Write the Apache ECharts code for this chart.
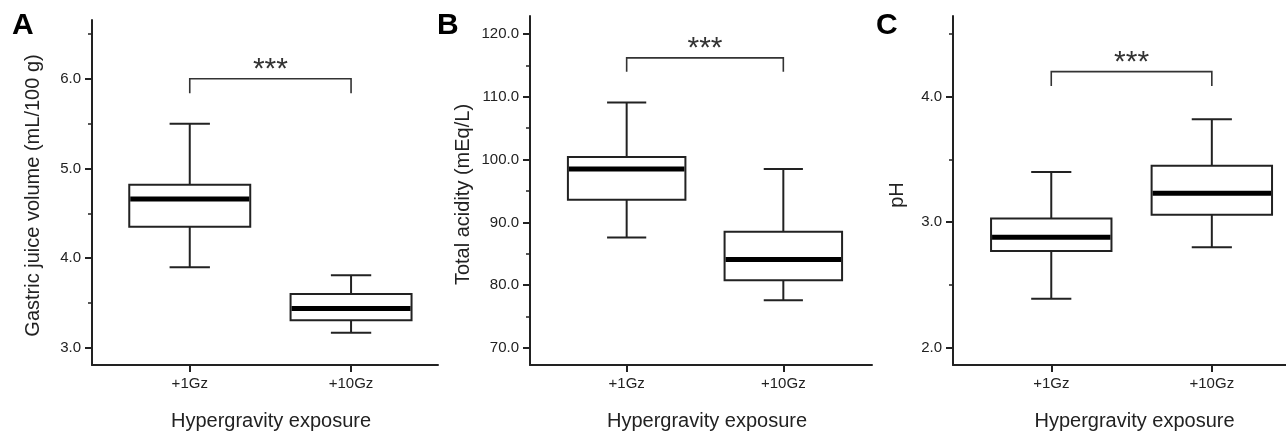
<!DOCTYPE html>
<html>
<head>
<meta charset="utf-8">
<script src="https://cdn.jsdelivr.net/npm/echarts@6/dist/echarts.min.js"></script>
<style>
  html, body { margin: 0; padding: 0; background: #fff; }
  #main { width: 1286px; height: 432px; }
</style>
</head>
<body>
<div id="main"></div>
<script>
// data: [low whisker, Q1, median, Q3, high whisker]
var categories = ['+1Gz', '+10Gz'];
var volume = [[3.90, 4.35, 4.66, 4.82, 5.50], [3.17, 3.31, 3.44, 3.60, 3.81]];
var acidity = [[87.6, 93.6, 98.5, 100.4, 109.1], [77.6, 80.8, 84.1, 88.5, 98.5]];
var ph = [[2.39, 2.77, 2.88, 3.03, 3.40], [2.80, 3.06, 3.23, 3.45, 3.82]];

// significance brackets: [top, leg end]
var bracketVolume = [6.0, 5.84];
var bracketAcidity = [116.2, 114.0];
var bracketPh = [4.20, 4.085];

// tick values
var volumeTicks = [3, 4, 5, 6];
var volumeMinor = [3.5, 4.5, 5.5, 6.5];
var acidityTicks = [70, 80, 90, 100, 110, 120];
var acidityMinor = [75, 85, 95, 105, 115];
var phTicks = [2, 3, 4];
var phMinor = [2.5, 3.5, 4.5];

var font = 'Liberation Sans, Arial, sans-serif';
var ink = '#222';

var myChart = echarts.init(document.getElementById('main'));

function boxItem(params, api) {
    var x = api.value(0);
    var low = api.coord([x, api.value(1)]);
    var q1 = api.coord([x, api.value(2)]);
    var med = api.coord([x, api.value(3)]);
    var q3 = api.coord([x, api.value(4)]);
    var high = api.coord([x, api.value(5)]);
    var hw = api.size([0.75, 0])[0] / 2;   // box half width
    var cw = api.size([0.25, 0])[0] / 2;   // cap half width
    var st = { stroke: ink, lineWidth: 2, fill: null };
    return {
        type: 'group',
        children: [
            { type: 'line', shape: { x1: high[0], y1: high[1], x2: q3[0], y2: q3[1] }, style: st },
            { type: 'line', shape: { x1: q1[0], y1: q1[1], x2: low[0], y2: low[1] }, style: st },
            { type: 'line', shape: { x1: high[0] - cw, y1: high[1], x2: high[0] + cw, y2: high[1] }, style: st },
            { type: 'line', shape: { x1: low[0] - cw, y1: low[1], x2: low[0] + cw, y2: low[1] }, style: st },
            { type: 'rect', shape: { x: q3[0] - hw, y: q3[1], width: hw * 2, height: q1[1] - q3[1] },
              style: { stroke: ink, lineWidth: 2, fill: '#fff' } },
            { type: 'line', shape: { x1: med[0] - hw + 1, y1: med[1], x2: med[0] + hw - 1, y2: med[1] },
              style: { stroke: '#000', lineWidth: 5 } }
        ]
    };
}

function bracketItem(params, api) {
    var top = api.value(0), leg = api.value(1);
    var a = api.coord([1, leg]), b = api.coord([1, top]);
    var c = api.coord([2, top]), d = api.coord([2, leg]);
    return {
        type: 'group',
        children: [
            { type: 'polyline', shape: { points: [a, b, c, d] },
              style: { stroke: '#333', lineWidth: 1.6, fill: null } },
            { type: 'text', x: (b[0] + c[0]) / 2, y: b[1] - 9,
              style: { text: '***', font: '30px ' + font, fill: '#333',
                       textAlign: 'center', textVerticalAlign: 'middle' } }
        ]
    };
}

function toRows(arr) {
    return arr.map(function (d, i) { return [i + 1].concat(d); });
}

function xAxisFor(idx, min, max, pad) {
    return {
        type: 'value', gridIndex: idx, min: min, max: max,
        name: 'Hypergravity exposure', nameLocation: 'middle', nameGap: 46,
        nameTextStyle: { fontFamily: font, fontSize: 20, color: ink, padding: [0, 0, 0, pad] },
        axisLine: { lineStyle: { color: ink, width: 2 } },
        axisTick: { length: 7, lineStyle: { color: ink, width: 2 }, customValues: [1, 2] },
        axisLabel: { fontFamily: font, fontSize: 15, color: ink, margin: 11, customValues: [1, 2],
                     formatter: function (v) { return categories[Math.round(v) - 1]; } },
        splitLine: { show: false }
    };
}

function yAxisFor(idx, min, max, ticks, name, gap, shift) {
    return {
        type: 'value', gridIndex: idx, min: min, max: max,
        name: name, nameLocation: 'middle', nameGap: gap,
        nameTextStyle: { fontFamily: font, fontSize: 20, color: ink, padding: [0, shift, 0, 0] },
        axisLine: { show: true, lineStyle: { color: ink, width: 2 } },
        axisTick: { show: true, length: 7, lineStyle: { color: ink, width: 2 }, customValues: ticks },
        axisLabel: { fontFamily: font, fontSize: 15, color: ink, margin: 11, customValues: ticks,
                     formatter: function (v) { return v.toFixed(1); } },
        splitLine: { show: false }
    };
}

function minorAxisFor(idx, min, max, ticks) {
    return {
        type: 'value', gridIndex: idx, min: min, max: max, position: 'left', offset: 0,
        axisLine: { show: false },
        axisTick: { show: true, length: 4, lineStyle: { color: ink, width: 1.5 }, customValues: ticks },
        axisLabel: { show: false },
        splitLine: { show: false }
    };
}

option = {
    animation: false,
    backgroundColor: '#fff',
    grid: [
        { left: 92, top: 20, width: 346, height: 345, outerBoundsMode: 'none' },
        { left: 530, top: 16, width: 342, height: 349, outerBoundsMode: 'none' },
        { left: 953, top: 16, width: 333, height: 349, outerBoundsMode: 'none' }
    ],
    xAxis: [
        xAxisFor(0, 0.394, 2.539, 12),
        xAxisFor(1, 0.383, 2.566, 12),
        xAxisFor(2, 0.388, 2.462, 30)
    ],
    yAxis: [
        yAxisFor(0, 2.81, 6.655, volumeTicks, 'Gastric juice volume (mL/100 g)', 49, 6),
        yAxisFor(1, 67.29, 122.87, acidityTicks, 'Total acidity (mEq/L)', 57, 8),
        yAxisFor(2, 1.862, 4.643, phTicks, 'pH', 46, 9),
        minorAxisFor(0, 2.81, 6.655, volumeMinor),
        minorAxisFor(1, 67.29, 122.87, acidityMinor),
        minorAxisFor(2, 1.862, 4.643, phMinor)
    ],
    graphic: [
        { type: 'text', left: 12, top: 11, style: { text: 'A', font: 'bold 30px ' + font, fill: '#000' } },
        { type: 'text', left: 437, top: 11, style: { text: 'B', font: 'bold 30px ' + font, fill: '#000' } },
        { type: 'text', left: 876, top: 11, style: { text: 'C', font: 'bold 30px ' + font, fill: '#000' } }
    ],
    series: [
        { type: 'custom', xAxisIndex: 0, yAxisIndex: 0, renderItem: boxItem, data: toRows(volume),
          encode: { x: 0, y: [1, 2, 3, 4, 5] } },
        { type: 'custom', xAxisIndex: 1, yAxisIndex: 1, renderItem: boxItem, data: toRows(acidity),
          encode: { x: 0, y: [1, 2, 3, 4, 5] } },
        { type: 'custom', xAxisIndex: 2, yAxisIndex: 2, renderItem: boxItem, data: toRows(ph),
          encode: { x: 0, y: [1, 2, 3, 4, 5] } },
        { type: 'custom', xAxisIndex: 0, yAxisIndex: 0, renderItem: bracketItem, data: [bracketVolume],
          encode: { y: [0, 1] } },
        { type: 'custom', xAxisIndex: 1, yAxisIndex: 1, renderItem: bracketItem, data: [bracketAcidity],
          encode: { y: [0, 1] } },
        { type: 'custom', xAxisIndex: 2, yAxisIndex: 2, renderItem: bracketItem, data: [bracketPh],
          encode: { y: [0, 1] } }
    ]
};
myChart.setOption(option);
</script>
</body>
</html>
